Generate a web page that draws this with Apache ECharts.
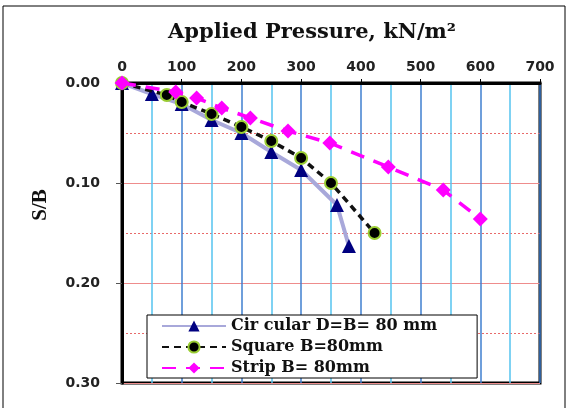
<!DOCTYPE html>
<html>
<head>
<meta charset="utf-8">
<style>
  html, body { margin: 0; padding: 0; background: #fff; }
  #chart { width: 568px; height: 408px; }
</style>
<script src="https://cdn.jsdelivr.net/npm/echarts@6/dist/echarts.min.js"></script>
</head>
<body>
<div id="chart"></div>
<script>
// applied pressure (kN/m2) and S/B
var circularPressure = [0, 50, 100, 150, 200, 250, 300, 360, 380]
var circularSB = [0, 0.011, 0.021, 0.037, 0.05, 0.069, 0.087, 0.122, 0.163]

var squarePressure = [0, 75, 100, 150, 200, 250, 300, 350, 423]
var squareSB = [0, 0.012, 0.019, 0.031, 0.044, 0.058, 0.075, 0.1, 0.15]

var stripPressure = [0, 90, 125, 167, 215, 278, 348, 446, 538, 600]
var stripSB = [0, 0.009, 0.015, 0.025, 0.035, 0.048, 0.06, 0.084, 0.107, 0.136]

var seriesNames = ['Cir cular D=B= 80 mm', 'Square B=80mm', 'Strip B= 80mm']

function pairs(xs, ys) {
  return xs.map(function(x, i) { return [x, ys[i]] })
}

var chart = echarts.init(document.getElementById('chart'))
var tickFont = { fontFamily: 'DejaVu Sans', fontWeight: 'bold', fontSize: 14, color: '#222' }

chart.setOption({
  animation: false,
  backgroundColor: '#fff',
  title: {
    text: 'Applied Pressure, kN/m\u00b2',
    left: 163,
    top: 17,
    textStyle: { fontFamily: 'DejaVu Serif', fontWeight: 'bold', fontSize: 21, color: '#111' }
  },
  graphic: [{
    type: 'rect',
    shape: { x: 3, y: 6, width: 562, height: 410 },
    style: { fill: null, stroke: '#000', lineWidth: 1 },
    z: -1
  }, {
    // y axis title
    type: 'text',
    x: 41,
    y: 205,
    rotation: Math.PI / 2,
    style: {
      text: 'S/B',
      fill: '#111',
      font: 'bold 21px "Liberation Serif"',
      align: 'center',
      verticalAlign: 'middle'
    }
  }],
  grid: {
    left: 122,
    top: 83,
    width: 418,
    height: 300,
    show: true,
    borderColor: '#000',
    borderWidth: 3
  },
  legend: {
    orient: 'vertical',
    left: 147,
    top: 315,
    itemWidth: 64,
    itemHeight: 14,
    itemGap: 5,
    padding: [3, 40, 2, 14],
    backgroundColor: '#fff',
    borderColor: '#000',
    borderWidth: 1,
    textStyle: { fontFamily: 'DejaVu Serif', fontWeight: 'bold', fontSize: 16, lineHeight: 16, color: '#111' },
    data: seriesNames
  },
  xAxis: {
    type: 'value',
    position: 'top',
    min: 0,
    max: 700,
    interval: 100,
    axisLine: { show: true, lineStyle: { color: '#000', width: 3 } },
    axisTick: { show: true, length: 4, lineStyle: { color: '#000' } },
    axisLabel: Object.assign({ margin: 9 }, tickFont),
    splitLine: { show: true, lineStyle: { color: '#3f7fcf', width: 1.5 } },
    minorTick: { show: true, splitNumber: 2, length: 0 },
    minorSplitLine: { show: true, lineStyle: { color: '#55c4f0', width: 1.5 } }
  },
  yAxis: {
    type: 'value',
    inverse: true,
    min: 0,
    max: 0.3,
    interval: 0.1,
    axisLine: { show: true, lineStyle: { color: '#000', width: 3 } },
    axisTick: { show: true, length: 6, lineStyle: { color: '#555' } },
    axisLabel: Object.assign({ margin: 22, formatter: function(v) { return v.toFixed(2) } }, tickFont),
    splitLine: { show: true, lineStyle: { color: '#ee8c8c', width: 1 } },
    minorTick: { show: true, splitNumber: 2, length: 0 },
    minorSplitLine: { show: true, lineStyle: { color: '#e86a6a', width: 1, type: [2, 2] } }
  },
  series: [
    {
      name: seriesNames[0],
      type: 'line',
      data: pairs(circularPressure, circularSB),
      symbol: 'triangle',
      symbolSize: 14,
      itemStyle: { color: '#000080' },
      lineStyle: { color: '#a8a8da', width: 4 },
      z: 2
    },
    {
      name: seriesNames[1],
      type: 'line',
      data: pairs(squarePressure, squareSB),
      symbol: 'circle',
      symbolSize: 12,
      itemStyle: { color: '#000', borderColor: '#9acd32', borderWidth: 2 },
      lineStyle: { color: '#111', width: 3.5, type: [7, 5] },
      z: 3
    },
    {
      name: seriesNames[2],
      type: 'line',
      data: pairs(stripPressure, stripSB),
      symbol: 'diamond',
      symbolSize: 15,
      itemStyle: { color: '#ff00ff' },
      lineStyle: { color: '#ff00ff', width: 3.5, type: [14, 10] },
      z: 4
    }
  ]
})
</script>
</body>
</html>
